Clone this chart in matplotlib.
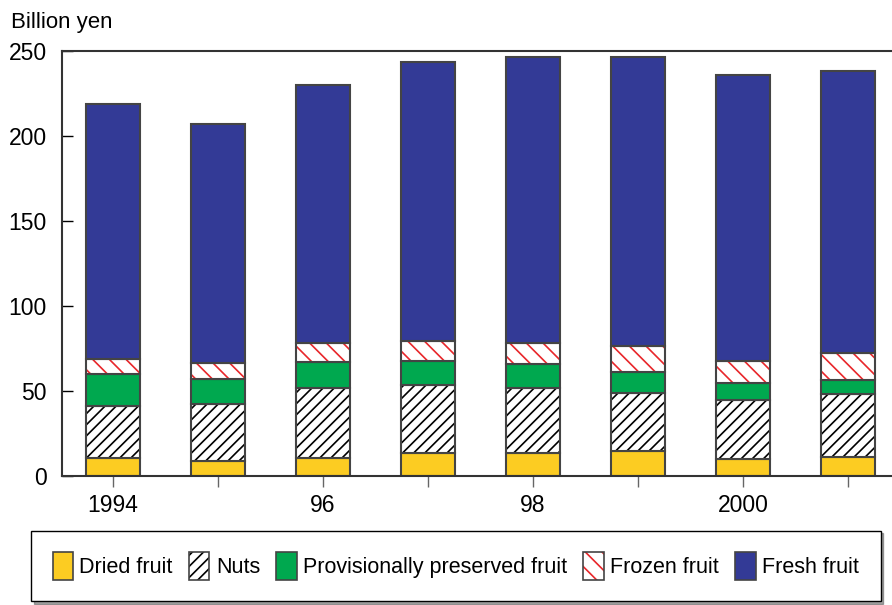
import numpy as np
import matplotlib.pyplot as plt
from matplotlib.patches import Patch
from matplotlib.legend_handler import HandlerTuple

plt.rcParams["font.family"] = ["Liberation Sans", "DejaVu Sans"]
plt.rcParams["hatch.linewidth"] = 1.2

# Data (billion yen)
years = [1994, 1995, 1996, 1997, 1998, 1999, 2000, 2001]
tick_labels = ["1994", "", "96", "", "98", "", "2000", ""]
dried = [10.6, 9.0, 10.8, 13.3, 13.7, 14.7, 10.2, 11.2]
nuts = [30.6, 33.2, 40.8, 40.2, 37.9, 33.9, 34.5, 37.2]
preserved = [18.6, 14.8, 15.6, 14.1, 14.3, 12.8, 10.2, 8.1]
frozen = [8.8, 9.3, 11.0, 12.0, 12.1, 15.3, 12.7, 16.0]
fresh = [150.2, 140.7, 151.8, 163.9, 168.5, 170.0, 168.3, 165.7]

edge = "#444444"
yellow = "#FCCC22"
green = "#00A84F"
blue = "#333A96"
red = "#E8262A"

fig = plt.figure(figsize=(8.92, 6.05), dpi=100)
ax = fig.add_axes([0.0695, 0.2132, 0.9305, 0.7025])

x = np.arange(len(years))
w = 0.514
b1 = np.array(dried)
b2 = b1 + np.array(nuts)
b3 = b2 + np.array(preserved)
b4 = b3 + np.array(frozen)

ax.bar(x, dried, w, color=yellow, edgecolor=edge, linewidth=1.5)
ax.bar(x, nuts, w, bottom=b1, color="white", edgecolor="black", hatch="///", linewidth=0)
ax.bar(x, nuts, w, bottom=b1, fill=False, edgecolor=edge, linewidth=1.5)
ax.bar(x, preserved, w, bottom=b2, color=green, edgecolor=edge, linewidth=1.5)
ax.bar(x, frozen, w, bottom=b3, color="white", edgecolor=red, hatch="\\\\", linewidth=0)
ax.bar(x, frozen, w, bottom=b3, fill=False, edgecolor=edge, linewidth=1.5)
ax.bar(x, fresh, w, bottom=b4, color=blue, edgecolor=edge, linewidth=1.5)

ax.set_xlim(-0.486, 7.419)
ax.set_ylim(0, 250)
ax.set_yticks([0, 50, 100, 150, 200, 250])
ax.set_xticks(x)
ax.set_xticklabels(tick_labels)
ax.tick_params(axis="y", direction="in", length=8, width=1, labelsize=16.5, pad=11)
ax.tick_params(axis="x", direction="out", length=8, width=1, color="#666666", labelsize=16.5, pad=5)
ax.spines["right"].set_visible(False)
for s in ["left", "top", "bottom"]:
    ax.spines[s].set_color("#333333")
    ax.spines[s].set_linewidth(1.5)

fig.text(0.012, 0.962, "Billion yen", fontsize=16, ha="left", va="center")

# Legend
handles = [
    Patch(facecolor=yellow, edgecolor=edge, linewidth=1.2),
    (Patch(facecolor="white", edgecolor="black", hatch="///", linewidth=0),
     Patch(fill=False, edgecolor=edge, linewidth=1.2)),
    Patch(facecolor=green, edgecolor=edge, linewidth=1.2),
    (Patch(facecolor="white", edgecolor=red, hatch="\\\\", linewidth=0),
     Patch(fill=False, edgecolor=edge, linewidth=1.2)),
    Patch(facecolor=blue, edgecolor=edge, linewidth=1.2),
]
labels = ["Dried fruit", "Nuts", "Provisionally preserved fruit", "Frozen fruit", "Fresh fruit"]
leg = fig.legend(handles, labels, ncol=5, loc="center", bbox_to_anchor=(0.511, 0.0645),
                 fontsize=15.5, frameon=True, fancybox=False, shadow=True,
                 edgecolor="black", handlelength=0.95, handleheight=1.6,
                 handletextpad=0.3, columnspacing=0.75, borderpad=1.0,
                 handler_map={tuple: HandlerTuple(ndivide=1)})
leg.get_frame().set_linewidth(1.0)

plt.savefig("out.png", dpi=100)
